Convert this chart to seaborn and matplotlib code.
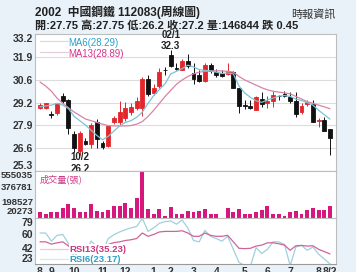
import numpy as np
import pandas as pd
import matplotlib
matplotlib.use("Agg")
import matplotlib.pyplot as plt
import seaborn as sns
from matplotlib.lines import Line2D

# ---------------- data ----------------
opens = [28.93, 28.93, 28.58, 28.62, 29.61, 29.40, 27.42, 26.45, 27.03, 26.84,
         28.10, 26.93, 26.74, 28.10, 28.15, 28.35, 28.72, 28.93, 28.93, 30.62,
         29.79, 30.23, 31.12, 31.98, 31.22, 31.15, 31.65, 30.95, 30.82, 30.48,
         31.44, 31.00, 30.95, 30.92, 31.00, 30.10, 29.10, 29.07, 28.82, 29.48,
         29.20, 29.32, 29.62, 29.75, 29.55, 29.36, 28.68, 29.17, 29.17, 28.20,
         28.24, 27.75]
highs = [29.20, 29.25, 28.78, 29.25, 29.80, 29.46, 27.60, 27.60, 27.20, 28.05,
         28.30, 27.05, 27.95, 28.50, 29.35, 29.30, 29.25, 29.55, 30.70, 30.85,
         30.30, 31.25, 31.30, 32.30, 31.50, 31.75, 32.05, 31.50, 31.15, 31.50,
         31.55, 31.20, 31.15, 31.50, 31.05, 30.10, 29.40, 29.40, 29.65, 29.85,
         29.65, 29.90, 29.70, 29.90, 29.85, 29.85, 29.20, 29.40, 29.40, 28.35,
         28.40, 27.75]
lows = [28.88, 28.85, 28.35, 28.55, 29.25, 27.42, 26.40, 26.20, 26.80, 26.60,
        26.64, 26.55, 26.70, 28.00, 27.95, 28.20, 28.55, 28.80, 28.50, 29.60,
        29.70, 30.10, 30.85, 31.30, 31.10, 31.10, 31.25, 30.30, 30.45, 30.45,
        30.95, 30.70, 30.70, 30.85, 30.10, 28.65, 28.85, 28.88, 28.80, 28.98,
        28.95, 28.98, 29.40, 29.55, 29.20, 28.43, 28.60, 29.05, 28.10, 27.85,
        27.58, 26.20]
closes = [29.13, 29.20, 28.53, 29.20, 29.32, 27.77, 26.64, 27.51, 26.87, 27.96,
          27.13, 26.68, 27.90, 28.33, 28.68, 28.93, 28.97, 29.32, 30.62, 29.75,
          30.10, 31.00, 31.10, 31.34, 31.20, 31.65, 31.34, 30.62, 30.48, 31.44,
          31.07, 30.82, 30.76, 31.07, 30.10, 29.07, 29.07, 28.93, 29.55, 29.17,
          29.36, 29.71, 29.60, 29.65, 29.32, 28.58, 29.07, 29.26, 28.15, 28.24,
          27.61, 27.20]
volumes = [74000, 47000, 74000, 74000, 115000, 162000, 122000, 74000, 74000, 165000,
           83000, 67000, 91000, 142000, 142000, 181000, 115000, 232000, 555035, 106000,
           51000, 106000, 20273, 134000, 44000, 47000, 79000, 75000, 80000, 102000,
           47000, 47000, 0, 115000, 74000, 106000, 51000, 51000, 74000, 94000,
           142000, 51000, 51000, 27000, 74000, 86000, 44000, 91000, 122000, 98000,
           94000, 146844]
ma6 = [29.0, 29.05, 29.1, 29.2, 29.1, 28.9, 28.45, 28.2, 27.95, 27.65,
       27.35, 27.1, 27.3, 27.6, 27.9, 28.1, 28.2, 28.4, 28.7, 29.2,
       29.65, 30.0, 30.33, 30.9, 31.05, 31.2, 31.4, 31.3, 31.15, 31.1,
       31.07, 31.0, 30.92, 30.95, 30.9, 30.2, 29.8, 29.55, 29.35, 29.26,
       29.4, 29.5, 29.62, 29.65, 29.6, 29.45, 29.36, 29.25, 29.1, 28.8,
       28.55, 28.29]
ma13 = [30.43, 30.2, 29.9, 29.5, 29.2, 28.95, 28.7, 28.5, 28.3, 28.2,
        28.1, 28.0, 27.92, 27.9, 27.9, 27.9, 27.92, 28.0, 28.15, 28.45,
        28.8, 29.2, 29.6, 29.95, 30.3, 30.55, 30.75, 30.9, 31.0, 31.04,
        31.07, 31.08, 31.07, 31.05, 31.0, 30.75, 30.55, 30.4, 30.25, 30.1,
        29.98, 29.9, 29.85, 29.8, 29.75, 29.6, 29.45, 29.3, 29.2, 29.1,
        29.0, 28.89]
rsi6 = [60.7, 60.7, 50.8, 57.9, 59.0, 48.0, 32.0, 40.0, 37.0, 51.0,
        44.0, 38.0, 54.0, 58.7, 62.0, 64.7, 67.0, 68.7, 78.6, 62.7,
        67.0, 72.6, 74.6, 75.4, 71.5, 76.6, 66.7, 51.6, 50.0, 63.9,
        56.7, 54.0, 50.8, 56.7, 40.9, 25.0, 21.0, 20.0, 42.9, 35.7,
        40.9, 50.0, 50.0, 46.8, 21.0, 43.7, 45.6, 39.7, 43.7, 35.1,
        29.0, 23.17]
rsi13 = [50.0, 50.0, 47.2, 48.8, 50.0, 45.0, 38.0, 42.0, 41.0, 46.0,
         44.0, 42.0, 46.8, 49.0, 50.0, 51.6, 52.5, 54.0, 60.7, 56.7,
         59.0, 62.0, 62.7, 62.7, 62.7, 63.5, 60.7, 56.7, 56.7, 60.7,
         57.9, 56.7, 56.7, 57.9, 50.0, 42.1, 41.7, 42.1, 44.8, 46.0,
         48.8, 48.8, 47.6, 46.0, 39.7, 45.2, 45.6, 44.8, 45.2, 40.9,
         38.1, 35.23]
price_ticks = [25.3, 26.6, 27.9, 29.2, 30.6, 31.9, 33.2]
vol_ticks = [20273, 198527, 376781, 555035]
rsi_ticks = [23, 42, 60, 79]
month_labels = ['8', '9', '10', '11', '12', '1', '2', '3', '4', '5', '6', '7', '8', '8/2']
month_weeks = [0, 2, 6, 11, 15, 20, 23, 27, 31, 36, 40, 44, 49, 51]

# ---------------- style ----------------
sns.set_theme(style="white")
plt.rcParams['font.family'] = ['Liberation Sans', 'Noto Sans CJK TC', 'DejaVu Sans']

W, H = 356, 272
BG = '#e9f2f9'
UP = '#e3262b'
DOWN = '#111111'
C_MA6 = '#7cc3d6'
C_MA13 = '#d883a8'
C_VOL = '#d6187e'
C_RSI13 = '#d0639a'
C_RSI6 = '#9fd0de'

fig = plt.figure(figsize=(W / 100, H / 100), dpi=100, facecolor=BG)

def rect(l, t, r, b):
    return [l / W, 1 - b / H, (r - l) / W, (b - t) / H]

ax1 = fig.add_axes(rect(35, 34, 336, 171))
ax2 = fig.add_axes(rect(35, 171, 336, 218))
ax3 = fig.add_axes(rect(35, 218, 336, 264))

df = pd.DataFrame({'w': np.arange(len(opens)), 'open': opens, 'high': highs,
                   'low': lows, 'close': closes, 'vol': volumes,
                   'ma6': ma6, 'ma13': ma13, 'rsi6': rsi6, 'rsi13': rsi13})
up = df['close'] > df['open']
cols = np.where(up, UP, DOWN)

# candles
ax1.vlines(df['w'], df['low'], df['high'], colors=cols, linewidth=0.7, zorder=2)
body_bottom = np.minimum(df['open'], df['close'])
body_h = np.abs(df['close'] - df['open'])
ax1.bar(df['w'], body_h, bottom=body_bottom, width=0.68, color=cols,
        edgecolor=cols, linewidth=0.6, zorder=3)
sns.lineplot(data=df, x='w', y='ma13', ax=ax1, color=C_MA13, linewidth=0.9, zorder=4)
sns.lineplot(data=df, x='w', y='ma6', ax=ax1, color=C_MA6, linewidth=0.9, zorder=4)

# volume
sns.barplot(data=df, x='w', y='vol', ax=ax2, color=C_VOL, width=0.68,
            saturation=1, edgecolor='none', linewidth=0)

# rsi
sns.lineplot(data=df, x='w', y='rsi6', ax=ax3, color=C_RSI6, linewidth=0.9)
sns.lineplot(data=df, x='w', y='rsi13', ax=ax3, color=C_RSI13, linewidth=0.9)

XL = (-0.88, 52.06)
for ax in (ax1, ax2, ax3):
    ax.set_xlim(*XL)
    ax.set_facecolor('white')
    ax.set_xlabel('')
    ax.set_ylabel('')
    for s in ax.spines.values():
        s.set_color('#bdbdbd')
        s.set_linewidth(0.8)
    ax.tick_params(axis='y', length=0, pad=1.5, labelcolor='#333333')

ax1.set_ylim(25.3, 33.2)
ax1.set_yticks(np.linspace(25.3, 33.2, 7))
ax1.set_yticklabels(price_ticks, fontsize=7.5, fontweight='bold')
ax1.set_xticks([])
for v in np.linspace(25.3, 33.2, 7)[1:-1]:
    ax1.axhline(v, color='#dcdcdc', linewidth=0.8, zorder=0)
ax1.spines['bottom'].set_color('#8c8c8c')

ax2.set_ylim(0, 555035)
ax2.set_yticks(vol_ticks)
ax2.set_yticklabels(vol_ticks, fontsize=6.8, fontweight='bold')
ax2.set_xticks([])
ax2.set_xlim(*XL)
ax2.spines['bottom'].set_color('#9a9a9a')

ax3.set_ylim(23, 79)
ax3.set_yticks(rsi_ticks)
ax3.set_yticklabels(rsi_ticks, fontsize=7.5, fontweight='bold')
ax3.set_xticks(month_weeks)
ax3.set_xticklabels(month_labels, fontsize=7.5, fontweight='bold')
ax3.tick_params(axis='x', length=0, pad=2.2, labelcolor='#333333')
ax3.spines['bottom'].set_color('#9a9a9a')

for ax in (ax1, ax2, ax3):
    labs = ax.get_yticklabels()
    labs[0].set_verticalalignment('bottom')
    labs[-1].set_verticalalignment('top')

# annotations of extremes
ax1.text(23, 33.17, '02/1', ha='center', va='center', fontsize=7,
         fontweight='bold', color='#222222', clip_on=False, zorder=6)
ax1.text(23, 32.52, '32.3', ha='center', va='center', fontsize=7,
         fontweight='bold', color='#222222', zorder=6)
ax1.text(7, 26.1, '10/2', ha='center', va='center', fontsize=7,
         fontweight='bold', color='#222222', zorder=6)
ax1.text(7, 25.42, '26.2', ha='center', va='center', fontsize=7,
         fontweight='bold', color='#222222', zorder=6)

def fx(x):
    return x / W

def fy(y):
    return 1 - y / H

# legend samples
for y, c in [(40.5, '#cfdfe8'), (52, '#e6cfdc'), (249.3, '#ecc9da'), (259.3, '#d6e8ee')]:
    fig.add_artist(Line2D([fx(40), fx(68)], [fy(y), fy(y)], color=c, linewidth=0.9))

fig.text(fx(68), fy(43), 'MA6(28.29)', color='#2a9fcb', fontsize=6.9,
         va='center', ha='left')
fig.text(fx(68), fy(54), 'MA13(28.89)', color='#d3338b', fontsize=6.9,
         va='center', ha='left')
fig.text(fx(40), fy(179), '成交量(張)', color='#cc3a86', fontsize=6.6,
         va='center', ha='left', family=['Noto Sans CJK TC', 'DejaVu Sans'])
fig.text(fx(69), fy(249.3), 'RSI13(35.23)', color='#c9357f', fontsize=6.8,
         fontweight='bold', va='center', ha='left',
         bbox=dict(facecolor='white', edgecolor='none', pad=0.3))
fig.text(fx(69), fy(259.5), 'RSI6(23.17)', color='#2e9fc8', fontsize=6.8,
         fontweight='bold', va='center', ha='left',
         bbox=dict(facecolor='white', edgecolor='none', pad=0.3))

# header
fig.text(fx(35), fy(12.5), '2002  中國鋼鐵 112083(周線圖)', fontsize=8.5,
         fontweight='bold', color='#222222', va='center', ha='left')
fig.text(fx(336), fy(14), '時報資訊', fontsize=8, color='#333333',
         va='center', ha='right')
fig.text(fx(35), fy(25), '開:27.75 高:27.75 低:26.2 收:27.2 量:146844 跌 0.45',
         fontsize=8, fontweight='bold', color='#222222', va='center', ha='left')

fig.savefig('out.png', dpi=100, facecolor=BG)
